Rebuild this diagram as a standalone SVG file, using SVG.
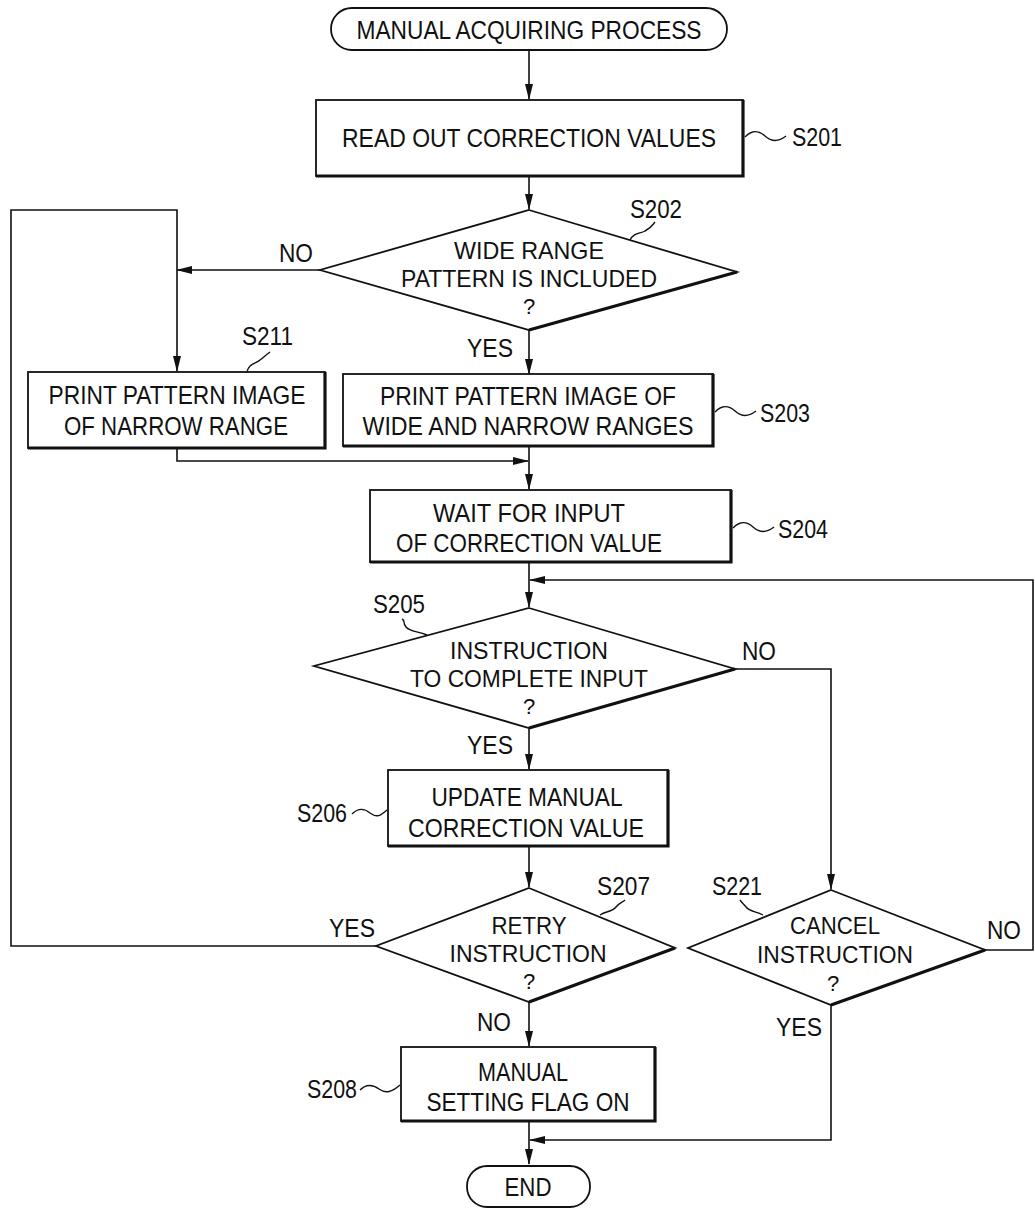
<svg xmlns="http://www.w3.org/2000/svg" width="1035" height="1210" viewBox="0 0 1035 1210">
<style>
.s{fill:#fff;stroke:#111;stroke-width:1.8}
.sh{fill:none;stroke:#111;stroke-width:3.2}
.c{fill:none;stroke:#111;stroke-width:1.6}
.t{font-family:"Liberation Sans Narrow","Liberation Sans",Arial,sans-serif;font-size:26px;fill:#111;text-anchor:middle}
.d{font-size:24.5px}
.q{font-size:22px}
.l{font-family:"Liberation Sans Narrow","Liberation Sans",Arial,sans-serif;font-size:25px;fill:#111}
.ld{fill:none;stroke:#111;stroke-width:1.4}
</style>
<defs>
<marker id="ah" markerWidth="16" markerHeight="10" refX="15" refY="5" orient="auto" markerUnits="userSpaceOnUse">
<path d="M0,1 L16,5 L0,9 Z" fill="#111"/>
</marker>
</defs>
<rect width="1035" height="1210" fill="#fff"/>
<g id="connectors">
<path class="c" d="M529,50 V99" marker-end="url(#ah)"/>
<path class="c" d="M529,177 V209" marker-end="url(#ah)"/>
<path class="c" d="M320,270 H177" marker-end="url(#ah)"/>
<path class="c" d="M376,946 H11 V210 H177 V371" marker-end="url(#ah)"/>
<path class="c" d="M529,330 V374" marker-end="url(#ah)"/>
<path class="c" d="M177,449 V461 H528" marker-end="url(#ah)"/>
<path class="c" d="M529,447 V489" marker-end="url(#ah)"/>
<path class="c" d="M529,563 V607" marker-end="url(#ah)"/>
<path class="c" d="M985,950 H1033 V580 H530" marker-end="url(#ah)"/>
<path class="c" d="M735,669 H831 V889" marker-end="url(#ah)"/>
<path class="c" d="M529,728 V769" marker-end="url(#ah)"/>
<path class="c" d="M529,847 V887" marker-end="url(#ah)"/>
<path class="c" d="M529,1002 V1046" marker-end="url(#ah)"/>
<path class="c" d="M831,1005 V1140 H530" marker-end="url(#ah)"/>
<path class="c" d="M529,1122 V1164" marker-end="url(#ah)"/>
<text class="l" x="279" y="262" textLength="34" lengthAdjust="spacingAndGlyphs">NO</text>
<text class="l" x="467" y="357" textLength="46" lengthAdjust="spacingAndGlyphs">YES</text>
<text class="l" x="742" y="660" textLength="34" lengthAdjust="spacingAndGlyphs">NO</text>
<text class="l" x="467" y="754" textLength="46" lengthAdjust="spacingAndGlyphs">YES</text>
<text class="l" x="329" y="937" textLength="46" lengthAdjust="spacingAndGlyphs">YES</text>
<text class="l" x="477" y="1031" textLength="34" lengthAdjust="spacingAndGlyphs">NO</text>
<text class="l" x="987" y="939" textLength="34" lengthAdjust="spacingAndGlyphs">NO</text>
<text class="l" x="776" y="1036" textLength="46" lengthAdjust="spacingAndGlyphs">YES</text>
</g>
<g id="start">
<rect class="s" x="331" y="8" width="396" height="42" rx="21"/>
<text class="t" x="529" y="39" textLength="345" lengthAdjust="spacingAndGlyphs">MANUAL ACQUIRING PROCESS</text>
</g>
<g id="S201">
<rect class="s" x="316" y="100" width="427" height="76"/>
<path class="sh" d="M316,176 H743 V100"/>
<text class="t" x="529" y="147" textLength="374" lengthAdjust="spacingAndGlyphs">READ OUT CORRECTION VALUES</text>
<path class="ld" d="M745,137 C752,130 758,130 765,136 C772,142 778,142 786,136"/>
<text class="l" x="792" y="146" textLength="50" lengthAdjust="spacingAndGlyphs">S201</text>
</g>
<g id="S202">
<path class="s" d="M529,210 L737,272 L529,330 L320,270 Z"/>
<path class="sh" d="M737,272 L529,330"/>
<text class="t d" x="529" y="259" textLength="150" lengthAdjust="spacingAndGlyphs">WIDE RANGE</text>
<text class="t d" x="529" y="287" textLength="256" lengthAdjust="spacingAndGlyphs">PATTERN IS INCLUDED</text>
<text class="t q" x="529" y="314">?</text>
<path class="ld" d="M630,240 C634,232 640,234 645,231 C651,228 652,226 655,222"/>
<text class="l" x="630" y="218" textLength="52" lengthAdjust="spacingAndGlyphs">S202</text>
</g>
<g id="S211">
<rect class="s" x="28" y="372" width="297" height="76"/>
<path class="sh" d="M28,448 H325 V372"/>
<text class="t" x="177" y="404" textLength="257" lengthAdjust="spacingAndGlyphs">PRINT PATTERN IMAGE</text>
<text class="t" x="176" y="435" textLength="224" lengthAdjust="spacingAndGlyphs">OF NARROW RANGE</text>
<path class="ld" d="M247,372 C249,363 256,364 260,360 C265,356 266,355 270,352"/>
<text class="l" x="242" y="345" textLength="51" lengthAdjust="spacingAndGlyphs">S211</text>
</g>
<g id="S203">
<rect class="s" x="343" y="374" width="370" height="72"/>
<path class="sh" d="M343,446 H713 V374"/>
<text class="t" x="528" y="405" textLength="296" lengthAdjust="spacingAndGlyphs">PRINT PATTERN IMAGE OF</text>
<text class="t" x="528" y="435" textLength="331" lengthAdjust="spacingAndGlyphs">WIDE AND NARROW RANGES</text>
<path class="ld" d="M715,412 C722,405 728,405 735,411 C742,417 748,417 756,411"/>
<text class="l" x="760" y="422" textLength="50" lengthAdjust="spacingAndGlyphs">S203</text>
</g>
<g id="S204">
<rect class="s" x="370" y="490" width="361" height="72"/>
<path class="sh" d="M370,562 H731 V490"/>
<text class="t" x="529" y="522" textLength="192" lengthAdjust="spacingAndGlyphs">WAIT FOR INPUT</text>
<text class="t" x="529" y="552" textLength="266" lengthAdjust="spacingAndGlyphs">OF CORRECTION VALUE</text>
<path class="ld" d="M733,528 C740,521 746,521 753,527 C760,533 766,533 774,527"/>
<text class="l" x="778" y="538" textLength="50" lengthAdjust="spacingAndGlyphs">S204</text>
</g>
<g id="S205">
<path class="s" d="M529,608 L735,669 L529,728 L314,666 Z"/>
<path class="sh" d="M735,669 L529,728"/>
<text class="t d" x="529" y="659" textLength="158" lengthAdjust="spacingAndGlyphs">INSTRUCTION</text>
<text class="t d" x="529" y="687" textLength="238" lengthAdjust="spacingAndGlyphs">TO COMPLETE INPUT</text>
<path class="ld" d="M427,635 C418,631 410,632 406,627 C402,622 406,621 402,619"/>
<text class="l" x="373" y="613" textLength="52" lengthAdjust="spacingAndGlyphs">S205</text>
<text class="t q" x="529" y="714">?</text>
</g>
<g id="S206">
<rect class="s" x="388" y="770" width="280" height="76"/>
<path class="sh" d="M388,846 H668 V770"/>
<text class="t" x="527" y="806" textLength="191" lengthAdjust="spacingAndGlyphs">UPDATE MANUAL</text>
<text class="t" x="526" y="837" textLength="236" lengthAdjust="spacingAndGlyphs">CORRECTION VALUE</text>
<path class="ld" d="M352,814 C358,808 364,808 370,813 C377,818 380,816 387,810"/>
<text class="l" x="297" y="822" textLength="50" lengthAdjust="spacingAndGlyphs">S206</text>
</g>
<g id="S207">
<path class="s" d="M529,888 L675,948 L529,1002 L376,946 Z"/>
<path class="sh" d="M675,948 L529,1002"/>
<text class="t d" x="529" y="934" textLength="75" lengthAdjust="spacingAndGlyphs">RETRY</text>
<text class="t d" x="528" y="962" textLength="157" lengthAdjust="spacingAndGlyphs">INSTRUCTION</text>
<text class="t q" x="529" y="989">?</text>
<path class="ld" d="M600,915 C606,911 612,912 616,907 C620,902 622,903 625,900"/>
<text class="l" x="597" y="895" textLength="53" lengthAdjust="spacingAndGlyphs">S207</text>
</g>
<g id="S221">
<path class="s" d="M831,890 L985,950 L831,1005 L688,948 Z"/>
<path class="sh" d="M985,950 L831,1005"/>
<text class="t d" x="835" y="934" textLength="90" lengthAdjust="spacingAndGlyphs">CANCEL</text>
<text class="t d" x="835" y="963" textLength="156" lengthAdjust="spacingAndGlyphs">INSTRUCTION</text>
<text class="t q" x="833" y="991">?</text>
<path class="ld" d="M763,915 C756,911 750,912 746,907 C742,902 742,903 740,900"/>
<text class="l" x="712" y="895" textLength="50" lengthAdjust="spacingAndGlyphs">S221</text>
</g>
<g id="S208">
<rect class="s" x="401" y="1047" width="254" height="74"/>
<path class="sh" d="M401,1121 H655 V1047"/>
<text class="t" x="523" y="1081" textLength="90" lengthAdjust="spacingAndGlyphs">MANUAL</text>
<text class="t" x="528" y="1111" textLength="203" lengthAdjust="spacingAndGlyphs">SETTING FLAG ON</text>
<path class="ld" d="M360,1090 C366,1084 372,1084 379,1089 C386,1094 392,1092 400,1085"/>
<text class="l" x="307" y="1098" textLength="50" lengthAdjust="spacingAndGlyphs">S208</text>
</g>
<g id="end">
<rect class="s" x="467" y="1166" width="123" height="41" rx="20"/>
<text class="t" x="528" y="1196" textLength="47" lengthAdjust="spacingAndGlyphs">END</text>
</g>
</svg>
